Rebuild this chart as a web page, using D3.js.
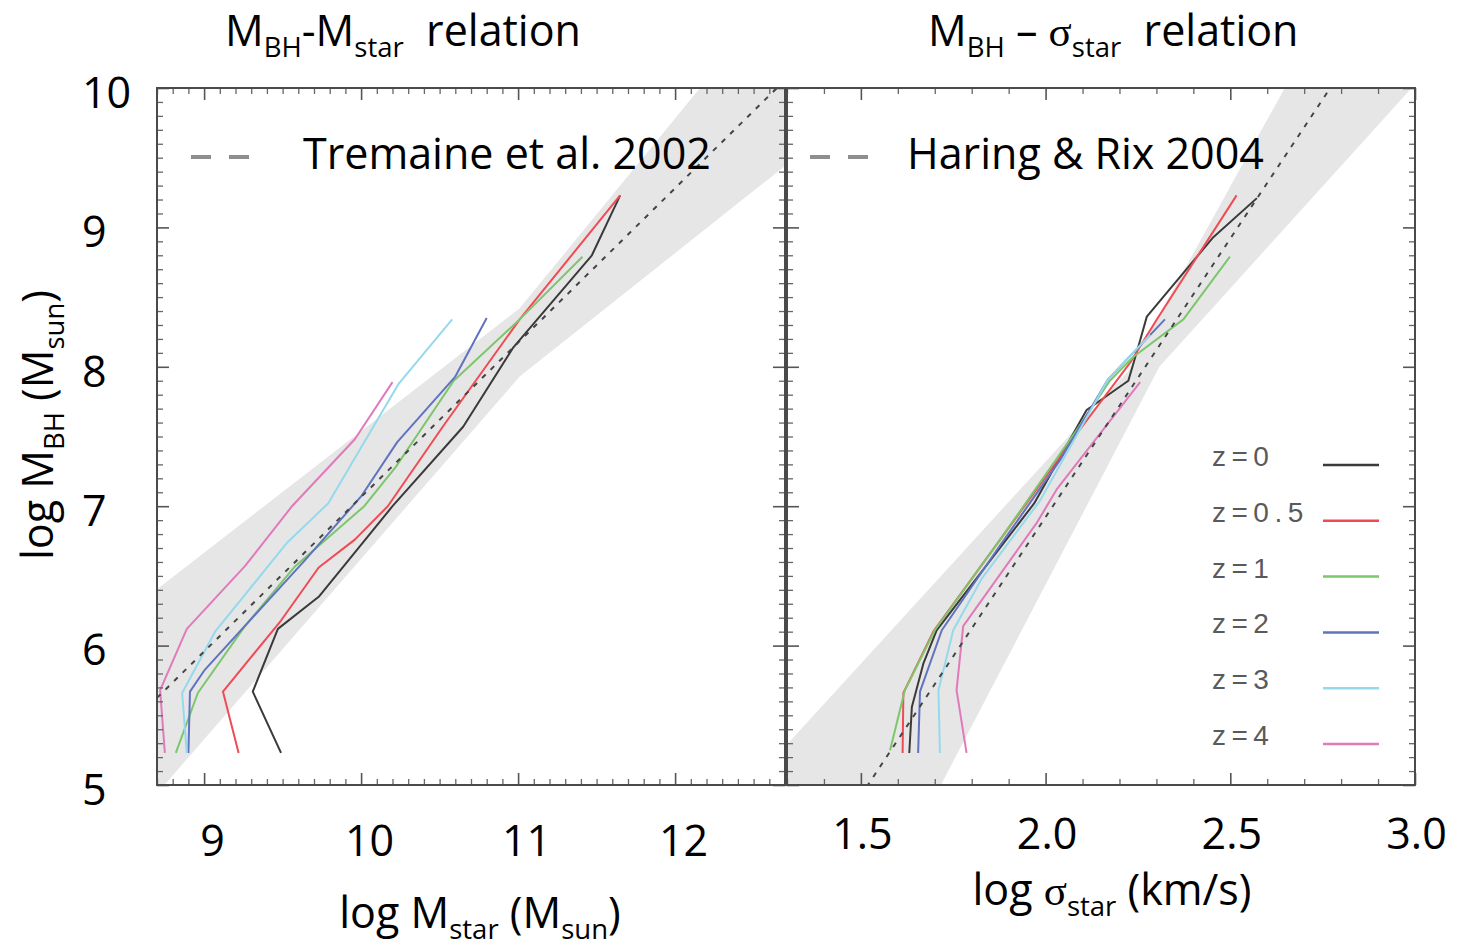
<!DOCTYPE html>
<html>
<head>
<meta charset="utf-8">
<script src="https://cdn.jsdelivr.net/npm/d3@7"></script>
<style>
body { margin: 0; background: #fff; }
svg { font-family: "Open Sans", Lato, sans-serif; }
</style>
</head>
<body>
<svg id="chart" width="1459" height="947"></svg>
<script>
let zLabels = ["z=0", "z=0.5", "z=1", "z=2", "z=3", "z=4"]
let zColors = ["#3a3a3a", "#f04b55", "#7dc66c", "#5f73c0", "#95d9ec", "#e07abb"]

// left panel: [log M_star, log M_BH] per redshift
let mstarZ0 = [[9.49,5.23],[9.31,5.67],[9.47,6.12],[9.73,6.35],[10.2,7.0],[10.65,7.57],[10.97,8.14],[11.47,8.8],[11.65,9.23]]
let mstarZ05 = [[9.22,5.23],[9.12,5.67],[9.49,6.18],[9.73,6.56],[9.96,6.76],[10.17,7.0],[10.52,7.57],[11.01,8.34],[11.65,9.23]]
let mstarZ1 = [[8.82,5.23],[8.96,5.66],[9.26,6.14],[9.58,6.57],[10.02,7.0],[10.22,7.28],[10.59,7.9],[11.01,8.34],[11.41,8.79]]
let mstarZ2 = [[8.9,5.23],[8.91,5.67],[9.0,5.82],[9.64,6.61],[10.0,7.07],[10.23,7.46],[10.6,7.93],[10.8,8.35]]
let mstarZ3 = [[8.89,5.23],[8.86,5.66],[9.07,6.1],[9.53,6.74],[9.79,7.02],[10.24,7.88],[10.58,8.34]]
let mstarZ4 = [[8.75,5.23],[8.72,5.68],[8.89,6.12],[9.26,6.57],[9.56,7.0],[9.96,7.48],[10.2,7.89]]

// right panel: [log sigma_star, log M_BH] per redshift
let sigmaZ0 = [[1.631,5.23],[1.638,5.56],[1.669,5.87],[1.705,6.11],[1.969,7.02],[2.111,7.69],[2.224,7.9],[2.256,8.19],[2.274,8.36],[2.454,8.93],[2.572,9.21]]
let sigmaZ05 = [[1.613,5.23],[1.615,5.66],[1.696,6.1],[1.877,6.76],[2.093,7.55],[2.229,8.03],[2.301,8.34],[2.517,9.23]]
let sigmaZ1 = [[1.579,5.25],[1.619,5.68],[1.7,6.11],[1.877,6.76],[2.093,7.58],[2.174,7.9],[2.237,8.07],[2.373,8.34],[2.499,8.79]]
let sigmaZ2 = [[1.655,5.23],[1.66,5.67],[1.719,6.11],[1.877,6.72],[2.039,7.33],[2.169,7.91],[2.323,8.34]]
let sigmaZ3 = [[1.714,5.23],[1.71,5.68],[1.75,6.11],[1.827,6.48],[1.985,7.04],[2.169,7.91],[2.283,8.23]]
let sigmaZ4 = [[1.786,5.23],[1.759,5.68],[1.777,6.14],[1.976,6.88],[2.03,7.12],[2.256,7.89]]

// observed relations and their scatter bands
let tremaineLine = [[8.7,5.625],[12.7,10.057]]
let tremaineBandHi = [[8.5,6.23],[11.01,8.42],[12.9,11.02]]
let tremaineBandLo = [[8.5,4.68],[11.01,7.93],[12.9,9.62]]
let haringLine = [[1.3,4.125],[3.0,10.917]]
let haringBandHi = [[1.2,5.0],[2.224,7.97],[3.1,12.17]]
let haringBandLo = [[1.2,2.38],[2.308,8.0],[3.1,10.32]]

let massTicks = [9, 10, 11, 12]
let sigmaTicks = [1.5, 2.0, 2.5, 3.0]
let mbhTicks = [5, 6, 7, 8, 9, 10]

let svg = d3.select("#chart")
let plotTop = 88, plotBottom = 785
let fontSize = 43

let y = d3.scaleLinear().domain([5, 10]).range([plotBottom, plotTop])

let panels = [
    {
        id: "left",
        x: d3.scaleLinear().domain([8.7, 12.7]).range([157, 785]),
        series: [mstarZ0, mstarZ05, mstarZ1, mstarZ2, mstarZ3, mstarZ4],
        relation: tremaineLine, bandHi: tremaineBandHi, bandLo: tremaineBandLo,
        ticks: massTicks, minor: d3.range(87, 128).map(i => i / 10),
        fmt: d3.format("d"), labelPad: 40, labelShift: 8, refName: "Tremaine et al. 2002",
        refX: 191, refTextX: 303
    },
    {
        id: "right",
        x: d3.scaleLinear().domain([1.3, 3.0]).range([787, 1415]),
        series: [sigmaZ0, sigmaZ05, sigmaZ1, sigmaZ2, sigmaZ3, sigmaZ4],
        relation: haringLine, bandHi: haringBandHi, bandLo: haringBandLo,
        ticks: sigmaTicks, minor: d3.range(13, 31).map(i => i / 10),
        fmt: d3.format(".1f"), labelPad: 33, labelShift: 1, refName: "Haring & Rix 2004",
        refX: 810, refTextX: 907
    }
]

let line = d3.line()

function drawPanel(p) {
    let x = p.x
    let g = svg.append("g").attr("id", p.id)
    let x0 = x.range()[0], x1 = x.range()[1]

    g.append("clipPath").attr("id", "clip-" + p.id)
        .append("rect").attr("x", x0).attr("y", plotTop).attr("width", x1 - x0).attr("height", plotBottom - plotTop)

    let plot = g.append("g").attr("clip-path", "url(#clip-" + p.id + ")")

    // scatter band
    let poly = p.bandHi.concat(p.bandLo.slice().reverse()).map(d => [x(d[0]), y(d[1])])
    plot.append("path")
        .attr("d", line(poly) + "Z")
        .attr("fill", "#e6e6e6")

    // model curves
    plot.selectAll("path.model")
        .data(p.series)
        .join("path")
        .attr("class", "model")
        .attr("d", d => line(d.map(v => [x(v[0]), y(v[1])])))
        .attr("fill", "none")
        .attr("stroke", (d, i) => zColors[i])
        .attr("stroke-width", 2)
        .attr("stroke-linejoin", "round")

    // observed relation
    plot.append("path")
        .attr("d", line(p.relation.map(v => [x(v[0]), y(v[1])])))
        .attr("fill", "none")
        .attr("stroke", "#444")
        .attr("stroke-width", 2)
        .attr("stroke-dasharray", "5,7")

    // frame ticks, all four sides, pointing inward
    let minor = p.minor.filter(v => !p.ticks.some(t => Math.abs(t - v) < 1e-6))
    let minorY = d3.range(50, 101).map(i => i / 10).filter(v => !mbhTicks.includes(v))
    let axes = [
        [() => d3.axisTop(x), "translate(0," + plotBottom + ")", minor, p.ticks],
        [() => d3.axisBottom(x), "translate(0," + plotTop + ")", minor, p.ticks],
        [() => d3.axisRight(y), "translate(" + x0 + ",0)", minorY, mbhTicks],
        [() => d3.axisLeft(y), "translate(" + x1 + ",0)", minorY, mbhTicks]
    ]
    axes.forEach(a => {
        g.append("g").attr("transform", a[1])
            .call(a[0]().tickValues(a[2]).tickSize(6).tickFormat(""))
            .call(s => s.select(".domain").remove())
            .selectAll("line").attr("stroke", "#666").attr("stroke-width", 1.3)
        g.append("g").attr("transform", a[1])
            .call(a[0]().tickValues(a[3]).tickSize(12).tickFormat(""))
            .call(s => s.select(".domain").remove())
            .selectAll("line").attr("stroke", "#555").attr("stroke-width", 1.6)
    })

    g.append("rect")
        .attr("x", x0).attr("y", plotTop).attr("width", x1 - x0).attr("height", plotBottom - plotTop)
        .attr("fill", "none").attr("stroke", "#4a4a4a").attr("stroke-width", 2)

    // tick labels
    g.append("g").attr("transform", "translate(" + p.labelShift + "," + plotBottom + ")")
        .call(d3.axisBottom(x).tickValues(p.ticks).tickSize(0).tickPadding(p.labelPad).tickFormat(p.fmt))
        .call(s => s.select(".domain").remove())
        .selectAll("text").attr("font-size", fontSize).attr("font-family", "Open Sans").attr("fill", "#000")

    // reference legend
    g.append("line")
        .attr("x1", p.refX).attr("x2", p.refX + 60).attr("y1", 157).attr("y2", 157)
        .attr("stroke", "#8e8e8e").attr("stroke-width", 4).attr("stroke-dasharray", "20,18")
    g.append("text")
        .attr("x", p.refTextX).attr("y", 169)
        .attr("font-size", fontSize)
        .text(p.refName)
}

panels.forEach(drawPanel)

// y tick labels
svg.append("g").attr("transform", "translate(157,0)")
    .call(d3.axisLeft(y).tickValues(mbhTicks).tickSize(0).tickFormat(d3.format("d")))
    .call(s => s.select(".domain").remove())
    .selectAll("text")
    .attr("text-anchor", "start").attr("x", -75).attr("dy", "0.45em")
    .attr("font-size", fontSize).attr("font-family", "Open Sans").attr("fill", "#000")

// redshift legend
let legend = svg.append("g").attr("transform", "translate(1212,465)")
legend.selectAll("text")
    .data(zLabels)
    .join("text")
    .attr("x", 0).attr("y", (d, i) => i * 55.8 + 1)
    .attr("font-family", "Liberation Sans, sans-serif")
    .attr("font-size", 28).attr("letter-spacing", 5.5)
    .attr("fill", "#5a5a5a")
    .text(d => d)
legend.selectAll("line")
    .data(zColors)
    .join("line")
    .attr("x1", 111).attr("x2", 167)
    .attr("y1", (d, i) => i * 55.8).attr("y2", (d, i) => i * 55.8)
    .attr("stroke", d => d).attr("stroke-width", 2.5)

// rich text with subscripts
function richText(parent, x, y, parts, size, anchor, rotate) {
    let t = parent.append("text")
        .attr("font-size", size).attr("text-anchor", anchor).attr("fill", "#000")
        .style("white-space", "pre")
    if (rotate) t.attr("transform", "translate(" + x + "," + y + ") rotate(" + rotate + ")")
    else t.attr("x", x).attr("y", y)
    let shift = 0
    parts.forEach(p => {
        let s = t.append("tspan").text(p.t)
        let want = p.sub ? size * 0.26 : 0
        if (want !== shift) { s.attr("dy", want - shift); shift = want }
        if (p.sub) s.attr("font-size", size * 0.64)
        if (p.greek) s.attr("font-family", "Liberation Serif, DejaVu Serif, serif")
    })
    return t
}

richText(svg, 225, 46, [{t: "M"}, {t: "BH", sub: 1}, {t: "-M"}, {t: "star", sub: 1}, {t: "  relation"}], fontSize, "start")
richText(svg, 928, 46, [{t: "M"}, {t: "BH", sub: 1}, {t: " \u2013 "}, {t: "\u03c3", greek: 1}, {t: "star", sub: 1}, {t: "  relation"}], fontSize, "start")
richText(svg, 480, 928, [{t: "log M"}, {t: "star", sub: 1}, {t: " (M"}, {t: "sun", sub: 1}, {t: ")"}], fontSize, "middle")
richText(svg, 1112, 905, [{t: "log "}, {t: "\u03c3", greek: 1}, {t: "star", sub: 1}, {t: " (km/s)"}], fontSize, "middle")
richText(svg, 53, 425, [{t: "log M"}, {t: "BH", sub: 1}, {t: " (M"}, {t: "sun", sub: 1}, {t: ")"}], fontSize, "middle", -90)
</script>
</body>
</html>
